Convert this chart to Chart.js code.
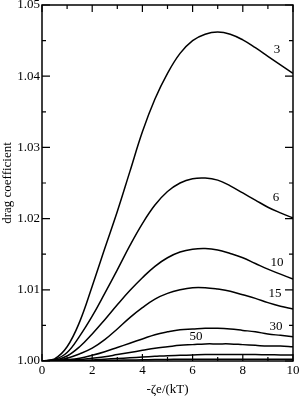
<!DOCTYPE html>
<html>
<head>
<meta charset="utf-8">
<script src="https://cdn.jsdelivr.net/npm/chart.js@4/dist/chart.umd.min.js"></script>
<style>
  html, body { margin: 0; padding: 0; background: #fff; }
  #wrap { width: 300px; height: 397px; position: relative; }
  .pre { font-family: "Liberation Serif"; position: absolute; left: -999px; }
</style>
</head>
<body>
<div id="wrap"><canvas id="myChart"></canvas></div>
<span class="pre">1.05 ζ</span>
<script>
// x values (-ζe/kT) shared by every curve
const xs = [0, 0.5, 1, 1.5, 2, 2.5, 3, 3.5, 4, 4.5, 5, 5.5, 6, 6.5, 7, 7.5, 8, 8.5, 9, 9.5, 10];

// curve names (κa)
const curveNames = ['3', '6', '10', '15', '30', '50', '100', '200'];

// drag coefficient
const ka3 = [1.0, 1.0003, 1.0020, 1.0055, 1.0105, 1.0158, 1.0210, 1.0266, 1.0322, 1.0368, 1.0404,
             1.0432, 1.0450, 1.0459, 1.0462, 1.0459, 1.0451, 1.0440, 1.0428, 1.0416, 1.0404];
const ka6 = [1.0, 1.0002, 1.0012, 1.0035, 1.0063, 1.0095, 1.0128, 1.0162, 1.0193, 1.0219, 1.0238,
             1.0250, 1.0256, 1.0257, 1.0254, 1.0246, 1.0236, 1.0226, 1.0216, 1.0208, 1.0201];
const ka10 = [1.0, 1.0001, 1.0007, 1.0020, 1.0038, 1.0058, 1.0079, 1.0099, 1.0117, 1.0133, 1.0145,
              1.0153, 1.0157, 1.0158, 1.0156, 1.0151, 1.0145, 1.0137, 1.0129, 1.0122, 1.0115];
const ka15 = [1.0, 1.0001, 1.0004, 1.0010, 1.0018, 1.0030, 1.0045, 1.0061, 1.0075, 1.0087, 1.0095,
              1.0100, 1.0103, 1.0103, 1.0101, 1.0098, 1.0093, 1.0088, 1.0082, 1.0077, 1.0073];
const ka30 = [1.0, 1.0001, 1.0002, 1.0004, 1.0008, 1.0013, 1.0019, 1.0025, 1.0031, 1.0037, 1.0041,
              1.0044, 1.0045, 1.0046, 1.0046, 1.0045, 1.0043, 1.0041, 1.0038, 1.0036, 1.0034];
const ka50 = [1.0, 1.00002, 1.0001, 1.0002, 1.0004, 1.0006, 1.0009, 1.0012, 1.0015, 1.0018, 1.0020,
              1.0022, 1.0023, 1.0024, 1.0024, 1.0024, 1.0023, 1.0022, 1.0021, 1.0021, 1.0020];
const ka100 = [1.0, 1.0, 1.00003, 1.0001, 1.00015, 1.00025, 1.00035, 1.00045, 1.00055, 1.00065, 1.00075,
               1.0008, 1.00085, 1.0009, 1.0009, 1.0009, 1.0009, 1.0009, 1.00088, 1.00086, 1.00085];
const ka200 = [1.0, 1.0, 1.00001, 1.00003, 1.00005, 1.00008, 1.00011, 1.00014, 1.00017, 1.0002, 1.00022,
               1.00024, 1.00025, 1.00026, 1.00026, 1.00026, 1.00026, 1.00026, 1.00025, 1.00025, 1.00025];
const allCurves = [ka3, ka6, ka10, ka15, ka30, ka50, ka100, ka200];

// axis ticks
const xTicks = [0, 2, 4, 6, 8, 10];
const yTicks = [1.00, 1.01, 1.02, 1.03, 1.04, 1.05];

// curve labels, placed in data units
const labelTexts = ['3', '6', '10', '15', '30', '50'];
const labelX = [9.36, 9.32, 9.36, 9.28, 9.32, 6.14];
const labelY = [1.0438, 1.0229, 1.0138, 1.0094, 1.0049, 1.0034];

const serif = '"Liberation Serif", "Times New Roman", serif';

// frame, inward ticks on all four sides and curve labels
const framePlugin = {
  id: 'frame',
  afterDraw(chart) {
    const c = chart.ctx;
    const a = chart.chartArea;
    const sx = chart.scales.x;
    const sy = chart.scales.y;
    c.save();
    c.strokeStyle = '#000';
    c.lineWidth = 1.5;
    c.strokeRect(a.left, a.top, a.right - a.left, a.bottom - a.top);

    c.lineWidth = 1.2;
    c.beginPath();
    for (let v = 0; v <= 10; v += 1) {
      const px = sx.getPixelForValue(v);
      const len = v % 2 === 0 ? 7 : 4;
      c.moveTo(px, a.bottom); c.lineTo(px, a.bottom - len);
      c.moveTo(px, a.top); c.lineTo(px, a.top + len);
    }
    for (let i = 0; i <= 10; i++) {
      const py = sy.getPixelForValue(1 + i * 0.005);
      const len = i % 2 === 0 ? 8 : 4;
      c.moveTo(a.left, py); c.lineTo(a.left + len, py);
      c.moveTo(a.right, py); c.lineTo(a.right - len, py);
    }
    c.stroke();

    c.fillStyle = '#000';
    c.font = '13px ' + serif;
    c.textAlign = 'center';
    c.textBaseline = 'middle';
    labelTexts.forEach((t, i) => {
      c.fillText(t, sx.getPixelForValue(labelX[i]), sy.getPixelForValue(labelY[i]));
    });
    c.restore();
  }
};

function drawChart() {
  const ctx = document.getElementById('myChart').getContext('2d');

  const datasets = allCurves.map((vals, i) => ({
    label: curveNames[i],
    data: xs.map((x, j) => ({ x: x, y: vals[j] })),
    borderColor: '#000',
    borderWidth: 1.5,
    pointRadius: 0,
    fill: false,
    tension: 0.4
  }));

  new Chart(ctx, {
    type: 'line',
    data: { datasets: datasets },
    options: {
      responsive: true,
      maintainAspectRatio: false,
      animation: false,
      layout: { padding: { top: 5, right: 7, left: 0, bottom: 0 } },
      plugins: {
        legend: { display: false },
        tooltip: { enabled: false }
      },
      scales: {
        x: {
          type: 'linear',
          min: 0,
          max: 10,
          afterBuildTicks: (s) => { s.ticks = xTicks.map(v => ({ value: v })); },
          afterFit: (s) => { s.height = 36; s.paddingLeft = 0; s.paddingRight = 0; },
          grid: { display: false, drawTicks: false },
          border: { display: false },
          ticks: {
            padding: 2,
            color: '#000',
            maxRotation: 0,
            font: { family: serif, size: 13 }
          },
          title: {
            display: true,
            text: '-ζe/(kT)',
            color: '#000',
            padding: 0,
            font: { family: serif, size: 13 }
          }
        },
        y: {
          type: 'linear',
          min: 1.0,
          max: 1.05,
          afterBuildTicks: (s) => { s.ticks = yTicks.map(v => ({ value: v })); },
          afterFit: (s) => { s.width = 42; s.paddingTop = 0; s.paddingBottom = 0; },
          grid: { display: false, drawTicks: false },
          border: { display: false },
          ticks: {
            padding: 2,
            color: '#000',
            font: { family: serif, size: 13 },
            callback: (v) => Number(v).toFixed(2)
          },
          title: {
            display: true,
            text: 'drag coefficient',
            color: '#000',
            padding: 0,
            font: { family: serif, size: 13 }
          }
        }
      }
    },
    plugins: [framePlugin]
  });
}

// make sure the serif face is ready before the canvas uses it
document.fonts.load('13px "Liberation Serif"', '1.05ζ').then(drawChart, drawChart);
</script>
</body>
</html>
